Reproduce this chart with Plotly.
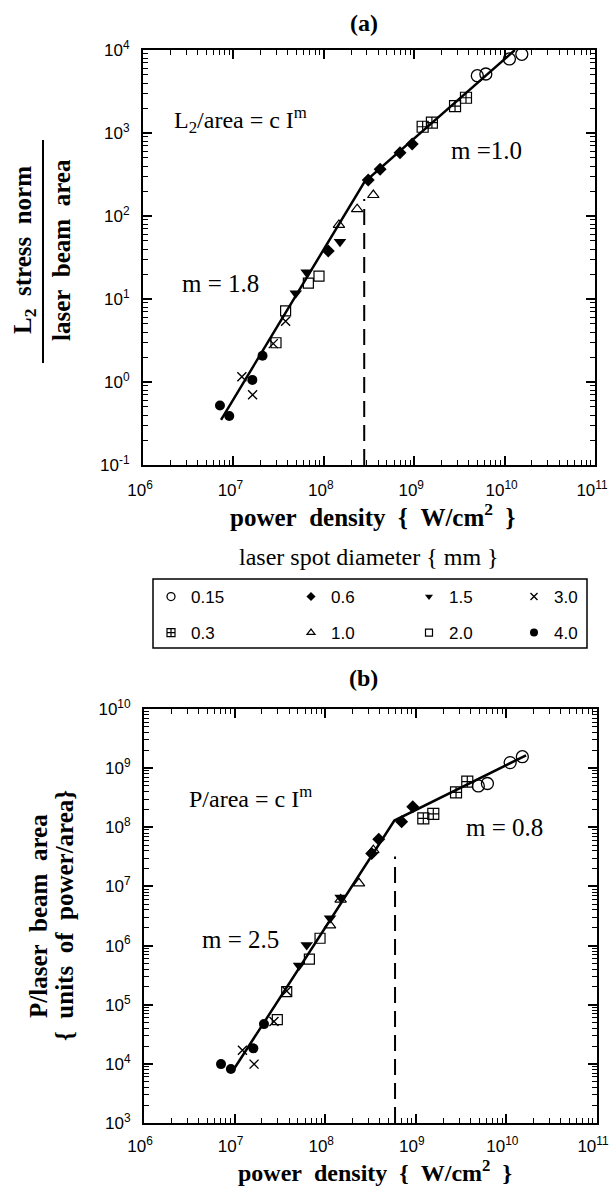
import plotly.graph_objects as go

W, H = 616, 1188
SERIF = "Liberation Serif"
SANS = "Liberation Sans"
NB = "\u00a0"

# ---------------- data: panel (a) L2 stress norm / laser beam area ----------------
a_015_x = [4.99e9, 6.2e9, 1.13e10, 1.55e10]
a_015_y = [4900, 5140, 7800, 8870]
a_03_x = [1.24e9, 1.57e9, 2.83e9, 3.74e9]
a_03_y = [1190, 1330, 2110, 2660]
a_06_x = [1.12e8, 3.1e8, 4.2e8, 6.97e8, 9.5e8]
a_06_y = [38, 272, 365, 580, 737]
a_10_x = [1.47e8, 2.34e8, 3.53e8]
a_10_y = [78, 121, 179]
a_15_x = [4.89e7, 6.46e7, 1.51e8]
a_15_y = [11.7, 21, 49]
a_20_x = [2.96e7, 3.78e7, 6.75e7, 8.85e7]
a_20_y = [2.97, 7.2, 15.5, 18.9]
a_30_x = [1.24e7, 1.63e7, 2.76e7, 3.78e7]
a_30_y = [1.16, 0.70, 2.9, 5.4]
a_40_x = [7.1e6, 9.0e6, 1.62e7, 2.1e7]
a_40_y = [0.52, 0.39, 1.06, 2.07]
a_fit_x = [7.3e6, 2.8e8, 1.3e10]
a_fit_y = [0.35, 255, 1e4]
a_break_x = [2.8e8, 2.8e8]
a_break_y = [0.1, 160]

# ---------------- data: panel (b) P / laser beam area ----------------
b_015_x = [4.9e9, 6.17e9, 1.1e10, 1.5e10]
b_015_y = [5.0e8, 5.5e8, 1.24e9, 1.56e9]
b_03_x = [1.21e9, 1.56e9, 2.78e9, 3.7e9]
b_03_y = [1.42e8, 1.68e8, 3.9e8, 5.9e8]
b_06_x = [3.26e8, 3.9e8, 6.98e8, 9.25e8]
b_06_y = [3.6e7, 6.3e7, 1.24e8, 2.23e8]
b_10_x = [1.13e8, 1.48e8, 2.36e8, 3.4e8]
b_10_y = [2.2e6, 6.0e6, 1.13e7, 4.1e7]
b_15_x = [5.14e7, 6.25e7, 1.13e8, 1.48e8]
b_15_y = [4.6e5, 1.02e6, 2.9e6, 6.5e6]
b_20_x = [2.96e7, 3.76e7, 6.69e7, 8.77e7]
b_20_y = [5.6e4, 1.66e5, 5.9e5, 1.33e6]
b_30_x = [1.22e7, 1.64e7, 2.72e7, 3.76e7]
b_30_y = [1.7e4, 9.9e3, 5.2e4, 1.7e5]
b_40_x = [7.08e6, 9.1e6, 1.61e7, 2.11e7]
b_40_y = [9.9e3, 8.2e3, 1.83e4, 4.7e4]
b_fit_x = [9.8e6, 5.8e8, 1.65e10]
b_fit_y = [8.1e3, 1.3e8, 1.65e9]
b_break_x = [5.9e8, 5.9e8]
b_break_y = [1e3, 3.2e7]

# ---------------- labels ----------------
diameters = ["0.15", "0.3", "0.6", "1.0", "1.5", "2.0", "3.0", "4.0"]
x_tickvals = [1e6, 1e7, 1e8, 1e9, 1e10, 1e11]
x_ticktext = ["10<sup>6</sup>", "10<sup>7</sup>", "10<sup>8</sup>", "10<sup>9</sup>",
              "10<sup>10</sup>", "10<sup>11</sup>"]
ya_tickvals = [1e-1, 1e0, 1e1, 1e2, 1e3, 1e4]
ya_ticktext = ["10<sup>-1</sup>", "10<sup>0</sup>", "10<sup>1</sup>", "10<sup>2</sup>",
               "10<sup>3</sup>", "10<sup>4</sup>"]
yb_tickvals = [1e3, 1e4, 1e5, 1e6, 1e7, 1e8, 1e9, 1e10]
yb_ticktext = ["10<sup>3</sup>", "10<sup>4</sup>", "10<sup>5</sup>", "10<sup>6</sup>",
               "10<sup>7</sup>", "10<sup>8</sup>", "10<sup>9</sup>", "10<sup>10</sup>"]

# ---------------- styles ----------------
def fx(p):
    return p / W

def fy(p):
    return 1 - p / H

marker_styles = {
    "0.15": dict(symbol="circle-open", size=12, color="black", line=dict(width=1.3, color="black")),
    "0.3": dict(symbol="square-cross-open", size=11, color="black", line=dict(width=1.2, color="black")),
    "0.6": dict(symbol="diamond", size=10, color="black", line=dict(width=0)),
    "1.0": dict(symbol="triangle-up-open", size=10, color="black", line=dict(width=1.2, color="black")),
    "1.5": dict(symbol="triangle-down", size=11, color="black", line=dict(width=0)),
    "2.0": dict(symbol="square-open", size=10, color="black", line=dict(width=1.2, color="black")),
    "3.0": dict(symbol="x-thin-open", size=9, color="black", line=dict(width=1.4, color="black")),
    "4.0": dict(symbol="circle", size=10, color="black", line=dict(width=0)),
}
legend_sizes = {"0.15": 8, "0.3": 8, "0.6": 7, "1.0": 7, "1.5": 7, "2.0": 7, "3.0": 7, "4.0": 8}

series_a = {
    "0.15": (a_015_x, a_015_y), "0.3": (a_03_x, a_03_y), "0.6": (a_06_x, a_06_y),
    "1.0": (a_10_x, a_10_y), "1.5": (a_15_x, a_15_y), "2.0": (a_20_x, a_20_y),
    "3.0": (a_30_x, a_30_y), "4.0": (a_40_x, a_40_y),
}
series_b = {
    "0.15": (b_015_x, b_015_y), "0.3": (b_03_x, b_03_y), "0.6": (b_06_x, b_06_y),
    "1.0": (b_10_x, b_10_y), "1.5": (b_15_x, b_15_y), "2.0": (b_20_x, b_20_y),
    "3.0": (b_30_x, b_30_y), "4.0": (b_40_x, b_40_y),
}

fig = go.Figure()

# fit lines and break lines
fig.add_trace(go.Scatter(x=a_fit_x, y=a_fit_y, mode="lines", line=dict(color="black", width=2.5),
                         showlegend=False, xaxis="x", yaxis="y"))
fig.add_trace(go.Scatter(x=a_break_x, y=a_break_y, mode="lines",
                         line=dict(color="black", width=2, dash="16px,8px"),
                         showlegend=False, xaxis="x", yaxis="y"))
fig.add_trace(go.Scatter(x=b_fit_x, y=b_fit_y, mode="lines", line=dict(color="black", width=2.5),
                         showlegend=False, xaxis="x2", yaxis="y2"))
fig.add_trace(go.Scatter(x=b_break_x, y=b_break_y, mode="lines",
                         line=dict(color="black", width=2, dash="16px,8px"),
                         showlegend=False, xaxis="x2", yaxis="y2"))

for d in diameters:
    xs, ys = series_a[d]
    fig.add_trace(go.Scatter(x=xs, y=ys, mode="markers", marker=marker_styles[d],
                             showlegend=False, xaxis="x", yaxis="y", name=d))
    xs, ys = series_b[d]
    fig.add_trace(go.Scatter(x=xs, y=ys, mode="markers", marker=marker_styles[d],
                             showlegend=False, xaxis="x2", yaxis="y2", name=d))

# legend entries: one legend per cell of the 4x2 key grid
legend_cols_px = [151, 291, 409, 514]
legend_rows_px = [597, 633]
legend_order = [["0.15", "0.6", "1.5", "3.0"], ["0.3", "1.0", "2.0", "4.0"]]
k = 0
for r, row in enumerate(legend_order):
    for c, d in enumerate(row):
        k += 1
        lname = "legend" if k == 1 else f"legend{k}"
        m = dict(marker_styles[d])
        m["size"] = legend_sizes[d]
        fig.add_trace(go.Scatter(x=[None], y=[None], mode="markers", marker=m, name=d,
                                 showlegend=True, legend=lname, xaxis="x", yaxis="y"))
        fig.update_layout(**{lname: dict(
            x=fx(legend_cols_px[c]), y=fy(legend_rows_px[r]), xanchor="left", yanchor="middle",
            xref="paper", yref="paper", bgcolor="rgba(0,0,0,0)", borderwidth=0,
            font=dict(family=SANS, size=17, color="black"), orientation="v")})

axis_common = dict(
    type="log", showgrid=False, zeroline=False, showline=True, linewidth=2, linecolor="black",
    mirror="allticks", ticks="inside", ticklen=9, tickwidth=1.5, tickcolor="black",
    tickmode="array", tickfont=dict(family=SANS, size=17, color="black"),
    ticklabeloverflow="allow",
    minor=dict(ticks="inside", ticklen=5, tickwidth=1, tickcolor="black", dtick="D1", showgrid=False),
)

fig.update_layout(
    width=W, height=H,
    margin=dict(l=0, r=0, t=0, b=0, autoexpand=False),
    paper_bgcolor="white", plot_bgcolor="white",
    xaxis=dict(axis_common, domain=[fx(143), fx(595)], range=[6, 11], anchor="y",
               tickvals=x_tickvals, ticktext=x_ticktext, ticklabelstandoff=9, ticklabelshift=-3),
    yaxis=dict(axis_common, domain=[fy(465), fy(50)], range=[-1, 4], anchor="x",
               tickvals=ya_tickvals, ticktext=ya_ticktext, ticklabelstandoff=8),
    xaxis2=dict(axis_common, domain=[fx(144), fx(597)], range=[6, 11], anchor="y2",
                tickvals=x_tickvals, ticktext=x_ticktext, ticklabelstandoff=7, ticklabelshift=-4),
    yaxis2=dict(axis_common, domain=[fy(1123), fy(709)], range=[3, 10], anchor="x2",
                tickvals=yb_tickvals, ticktext=yb_ticktext, ticklabelstandoff=8),
)

def ann(text, x, y, size=24, bold=False, xanchor="center", angle=0, family=SERIF, yanchor="middle"):
    fig.add_annotation(text=text, x=fx(x), y=fy(y), xref="paper", yref="paper",
                       xanchor=xanchor, yanchor=yanchor, showarrow=False, textangle=angle,
                       borderpad=0,
                       font=dict(family=family, size=size, color="black",
                                 weight="bold" if bold else "normal"))

sp2 = NB * 2
ann("(a)", 364, 23, size=24, bold=True)
ann("(b)", 363, 678, size=24, bold=True)
ann("L<sub>2</sub>/area = c I<sup>m</sup>", 173, 120, size=24, xanchor="left")
ann("m =1.0", 450, 150, size=25, xanchor="left")
ann("m = 1.8", 181, 283, size=25, xanchor="left")
ann("P/area = c I<sup>m</sup>", 188, 797, size=24, xanchor="left")
ann("m = 2.5", 201, 940, size=25, xanchor="left")
ann("m = 0.8", 465, 827, size=25, xanchor="left")
xtitle = f"power{sp2}density{sp2}{{{sp2}W/cm<sup>2</sup>{sp2}}}"
ann(xtitle, 373, 515, size=25, bold=True)
ann(xtitle, 375, 1187, size=24, bold=True, yanchor="bottom")
ann("laser spot diameter { mm }", 369, 557, size=24)
ann(f"L<sub>2</sub>{sp2}stress{sp2}norm", 25, 250, size=25, bold=True, angle=-90)
ann(f"laser{sp2}beam{sp2}area", 62, 250, size=25, bold=True, angle=-90)
ann(f"P/laser{sp2}beam{sp2}area", 38, 916, size=25, bold=True, angle=-90)
ann(f"{{{sp2}units{sp2}of{sp2}power/area}}", 64, 916, size=25, bold=True, angle=-90)

# fraction bar of the panel (a) y title and key frame
fig.add_shape(type="line", xref="paper", yref="paper", x0=fx(43), x1=fx(43), y0=fy(140), y1=fy(363),
              line=dict(color="black", width=2))
fig.add_shape(type="rect", xref="paper", yref="paper", x0=fx(153), x1=fx(587), y0=fy(648), y1=fy(579),
              line=dict(color="black", width=1.5), fillcolor="rgba(0,0,0,0)")

# remove the default page margin so the figure sits at the window's top-left corner
page_fix = "document.body.style.margin='0';document.body.style.padding='0';"
fig.write_html("out.html", post_script=page_fix, config={"displayModeBar": False})
